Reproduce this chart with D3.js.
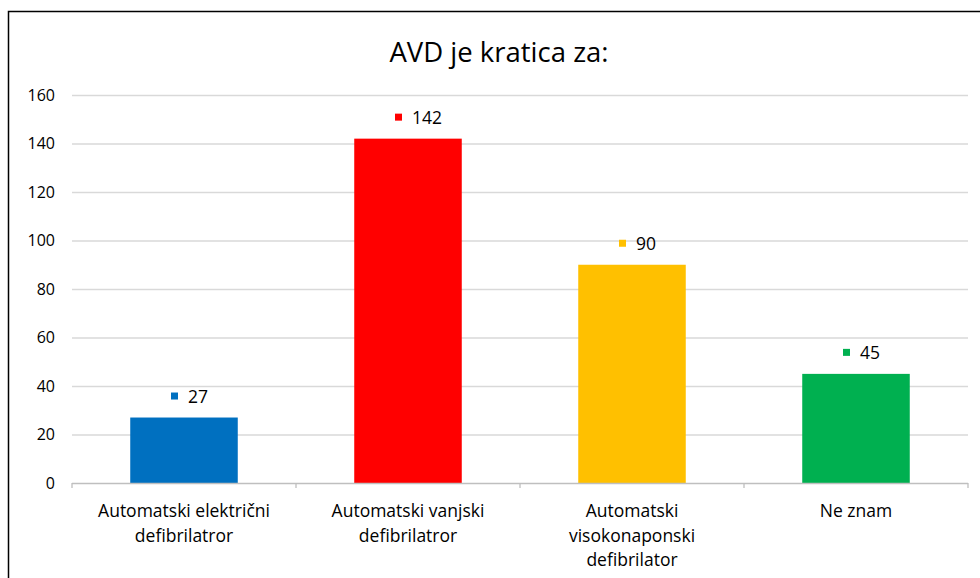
<!DOCTYPE html>
<html>
<head>
<meta charset="utf-8">
<script src="https://cdn.jsdelivr.net/npm/d3@7"></script>
<style>
  body { margin: 0; background: #fff; }
  svg { display: block; font-family: "Open Sans", "Noto Sans", sans-serif; }
</style>
</head>
<body>
<svg id="chart" width="980" height="578"></svg>
<script>
// data
const categories = [
  ["Automatski električni", "defibrilatror"],
  ["Automatski vanjski", "defibrilatror"],
  ["Automatski", "visokonaponski", "defibrilator"],
  ["Ne znam"],
];
const values = [27, 142, 90, 45];
const colors = ["#0070c0", "#ff0000", "#ffc000", "#00b050"];
const yTicks = [0, 20, 40, 60, 80, 100, 120, 140, 160];

const svg = d3.select("#chart");
const margin = { top: 95, right: 12, bottom: 95, left: 72 };
const width = 980 - margin.left - margin.right;
const height = 578 - margin.top - margin.bottom;

// chart frame
svg.append("rect")
  .attr("x", 8.5).attr("y", 11.5)
  .attr("width", 990).attr("height", 600)
  .attr("fill", "none")
  .attr("stroke", "#000")
  .attr("stroke-width", 1.5);

svg.append("text")
  .attr("x", 499).attr("y", 62)
  .attr("text-anchor", "middle")
  .attr("font-size", 27.5)
  .attr("fill", "#000")
  .text("AVD je kratica za:");

const g = svg.append("g").attr("transform", `translate(${margin.left},${margin.top})`);

const x = d3.scaleBand()
  .domain(d3.range(values.length))
  .range([0, width])
  .paddingInner(0.52)
  .paddingOuter(0.26);

const y = d3.scaleLinear().domain([0, 160]).range([height, 0]);

// gridlines
g.append("g")
  .selectAll("line")
  .data(yTicks.slice(1))
  .join("line")
  .attr("x1", 0).attr("x2", width)
  .attr("y1", d => y(d) + 0.5).attr("y2", d => y(d) + 0.5)
  .attr("stroke", "#d9d9d9")
  .attr("stroke-width", 1.3);

// y axis labels
const yAxis = g.append("g")
  .call(d3.axisLeft(y).tickValues(yTicks).tickSize(0).tickPadding(17));
yAxis.select(".domain").remove();
yAxis.selectAll("text")
  .attr("font-size", 16)
  .attr("fill", "#000")
  .attr("font-family", "Open Sans, sans-serif");

// bars
g.append("g")
  .selectAll("rect")
  .data(values)
  .join("rect")
  .attr("x", (d, i) => x(i))
  .attr("y", d => y(d))
  .attr("width", x.bandwidth())
  .attr("height", d => y(0) - y(d))
  .attr("fill", (d, i) => colors[i]);

// x axis with band boundary ticks
const band = width / values.length;
const xAxis = g.append("g").attr("transform", `translate(0,${height})`);
xAxis.append("line")
  .attr("x1", 0).attr("x2", width)
  .attr("y1", 0.5).attr("y2", 0.5)
  .attr("stroke", "#bfbfbf").attr("stroke-width", 1.3);
xAxis.selectAll("line.tick")
  .data(d3.range(values.length + 1))
  .join("line")
  .attr("class", "tick")
  .attr("x1", d => d * band).attr("x2", d => d * band)
  .attr("y1", 0).attr("y2", 5)
  .attr("stroke", "#bfbfbf").attr("stroke-width", 1.3);

// category labels
xAxis.selectAll("text.cat")
  .data(categories)
  .join("text")
  .attr("class", "cat")
  .attr("text-anchor", "middle")
  .attr("font-size", 17.5)
  .attr("fill", "#000")
  .attr("transform", (d, i) => `translate(${x(i) + x.bandwidth() / 2},34)`)
  .selectAll("tspan")
  .data(d => d)
  .join("tspan")
  .attr("x", 0)
  .attr("dy", (d, j) => j === 0 ? 0 : 24.5)
  .text(d => d);

// data labels with legend keys
const lab = g.append("g")
  .selectAll("g")
  .data(values)
  .join("g")
  .attr("transform", (d, i) => `translate(${x(i) + x.bandwidth() / 2},${y(d) - 21})`);
lab.append("rect")
  .attr("x", -13).attr("y", -4)
  .attr("width", 7).attr("height", 7)
  .attr("fill", (d, i) => colors[i]);
lab.append("text")
  .attr("x", 4).attr("y", 6)
  .attr("font-size", 17.5)
  .attr("fill", "#000")
  .text(d => d);
</script>
</body>
</html>
